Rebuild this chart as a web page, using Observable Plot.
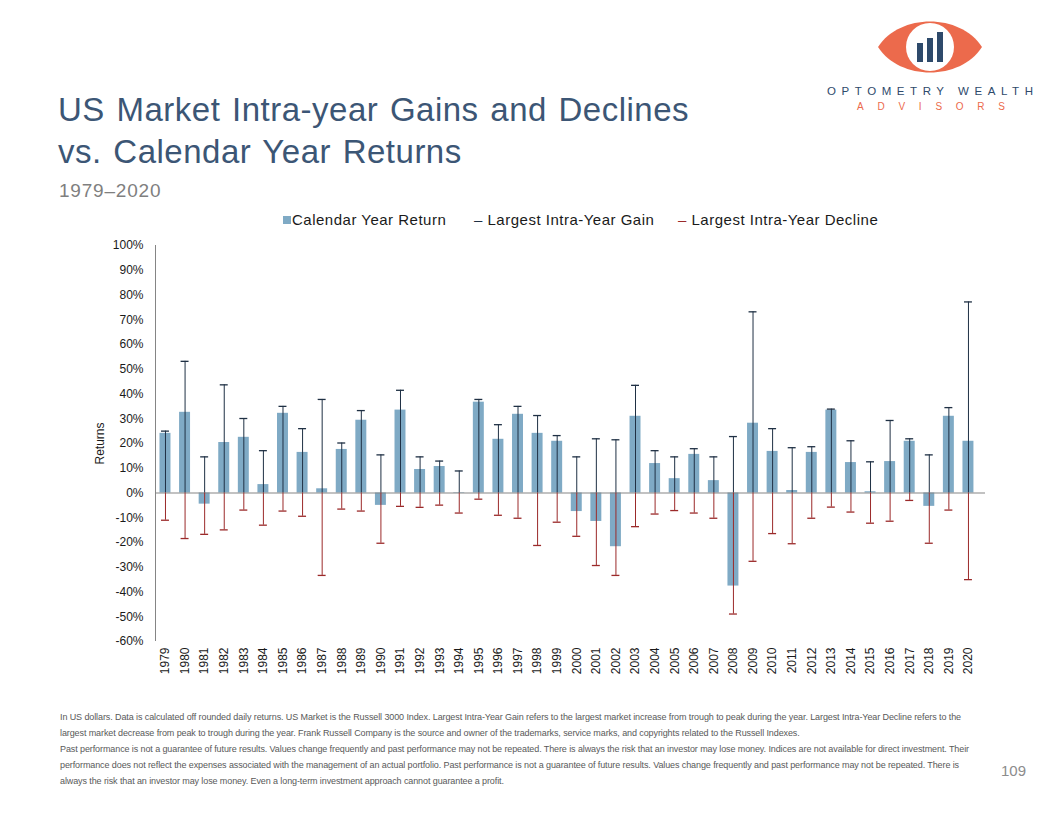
<!DOCTYPE html>
<html>
<head>
<meta charset="utf-8">
<script src="https://cdn.jsdelivr.net/npm/d3@7"></script>
<script src="https://cdn.jsdelivr.net/npm/@observablehq/plot@0.6"></script>
<style>
  html, body { margin: 0; padding: 0; background: #ffffff; }
  #page { position: relative; width: 1056px; height: 816px; overflow: hidden; font-family: "Liberation Sans", Arial, sans-serif; }
  .abs { position: absolute; white-space: nowrap; }
  #title { left: 58px; top: 89px; font-size: 33px; line-height: 42px; letter-spacing: 0.5px; word-spacing: 2px; color: #3c5675; }
  #subtitle { left: 59px; top: 180px; font-size: 19px; letter-spacing: 0.8px; color: #7f7f7f; }
  #legend { top: 211px; left: 283px; font-size: 15px; letter-spacing: 0.5px; color: #1a1a1a; }
  #legend span.item { position: absolute; top: 0; white-space: nowrap; }
  .sw { display: inline-block; width: 8px; height: 8px; margin-right: 1px; vertical-align: 1px; }
  #chart { left: 0; top: 235px; }
  #notes { left: 60px; top: 709px; font-size: 9px; line-height: 16px; color: #595959; letter-spacing: -0.1px; }
  #pageno { left: 1001px; top: 762px; font-size: 15px; color: #8c8c8c; }
</style>
</head>
<body>
<div id="page">
  <svg class="abs" style="left:0;top:0" width="1056" height="120">
    <!-- firm logo: eye with bar-chart pupil -->
    <path d="M878,47 C900,13 960,13 982,47 C960,81 900,81 878,47 Z" fill="#ec6a4c"/>
    <circle cx="930" cy="47" r="24" fill="#ffffff"/>
    <rect x="917" y="43" width="6" height="19" fill="#2e4a6b"/>
    <rect x="927" y="38" width="6" height="24" fill="#2e4a6b"/>
    <rect x="937" y="32" width="6" height="30" fill="#2e4a6b"/>
    <text x="827" y="95" font-family="Liberation Sans, Arial, sans-serif" font-size="11.5" fill="#2e4a6b" textLength="206" lengthAdjust="spacing">OPTOMETRY WEALTH</text>
    <text x="857" y="110" font-family="Liberation Sans, Arial, sans-serif" font-size="10" fill="#ec6a4c" textLength="148" lengthAdjust="spacing">ADVISORS</text>
  </svg>

  <div id="title" class="abs">US Market Intra-year Gains and Declines<br>vs. Calendar Year Returns</div>
  <div id="subtitle" class="abs">1979–2020</div>

  <div id="legend" class="abs">
    <span class="item" style="left:0"><span class="sw" style="background:#7faac5"></span>Calendar Year Return</span>
    <span class="item" style="left:191px"><span style="color:#1f3044">–</span> Largest Intra-Year Gain</span>
    <span class="item" style="left:395px"><span style="color:#9b2a2a">–</span> Largest Intra-Year Decline</span>
  </div>

  <div id="chart" class="abs"></div>

  <div id="notes" class="abs">In US dollars. Data is calculated off rounded daily returns. US Market is the Russell 3000 Index. Largest Intra-Year Gain refers to the largest market increase from trough to peak during the year. Largest Intra-Year Decline refers to the<br>largest market decrease from peak to trough during the year. Frank Russell Company is the source and owner of the trademarks, service marks, and copyrights related to the Russell Indexes.<br>Past performance is not a guarantee of future results. Values change frequently and past performance may not be repeated. There is always the risk that an investor may lose money. Indices are not available for direct investment. Their<br>performance does not reflect the expenses associated with the management of an actual portfolio. Past performance is not a guarantee of future results. Values change frequently and past performance may not be repeated. There is<br>always the risk that an investor may lose money. Even a long-term investment approach cannot guarantee a profit.</div>
  <div id="pageno" class="abs">109</div>
</div>

<script>
// Russell 3000: calendar-year return, largest intra-year gain and decline (%)
const years = ["1979","1980","1981","1982","1983","1984","1985","1986","1987","1988",
               "1989","1990","1991","1992","1993","1994","1995","1996","1997","1998",
               "1999","2000","2001","2002","2003","2004","2005","2006","2007","2008",
               "2009","2010","2011","2012","2013","2014","2015","2016","2017","2018",
               "2019","2020"];
const calendarReturn = [24.1, 32.6, -4.5, 20.4, 22.5, 3.4, 32.2, 16.4, 1.7, 17.6,
                        29.4, -5.0, 33.5, 9.5, 10.7, 0.2, 36.7, 21.7, 31.8, 24.1,
                        20.9, -7.5, -11.5, -21.7, 31.0, 11.9, 5.8, 15.6, 5.0, -37.6,
                        28.2, 16.8, 1.0, 16.4, 33.5, 12.3, 0.5, 12.7, 20.9, -5.4,
                        31.0, 20.9];
const intraYearGain = [25.0, 53.2, 14.6, 43.7, 30.1, 17.1, 35.0, 26.0, 37.8, 20.2,
                       33.3, 15.4, 41.5, 14.6, 12.9, 8.9, 37.8, 27.6, 35.0, 31.3,
                       23.2, 14.6, 21.9, 21.5, 43.5, 17.1, 14.6, 17.9, 14.6, 22.8,
                       73.2, 26.0, 18.3, 18.7, 33.9, 21.1, 12.6, 29.3, 21.9, 15.4,
                       34.5, 77.2];
const intraYearDecline = [-11.0, -18.4, -16.7, -14.9, -6.9, -13.0, -7.3, -9.4, -33.3, -6.5,
                          -7.3, -20.3, -5.4, -5.8, -4.9, -8.1, -2.5, -9.0, -10.2, -21.2,
                          -11.8, -17.5, -29.3, -33.3, -13.6, -8.5, -7.1, -8.1, -10.2, -48.9,
                          -27.6, -16.4, -20.5, -10.2, -5.7, -7.7, -12.2, -11.4, -3.0, -20.3,
                          -6.9, -35.0];
const yTicks = [-60, -50, -40, -30, -20, -10, 0, 10, 20, 30, 40, 50, 60, 70, 80, 90, 100];

const rows = years.map((year, i) => ({
  year,
  ret: calendarReturn[i],
  gain: intraYearGain[i],
  decline: intraYearDecline[i]
}));

const barColor = "#7faac5";
const gainColor = "#1f3044";
const declineColor = "#9b2a2a";
const axisColor = "#858585";

const chart = Plot.plot({
  width: 1056,
  height: 450,
  marginLeft: 155,
  marginRight: 71,
  marginTop: 10,
  marginBottom: 44,
  style: { fontFamily: "Liberation Sans, Arial, sans-serif", fontSize: "12px", color: "#1a1a1a", background: "transparent" },
  x: { domain: years, paddingInner: 0.44, paddingOuter: 0.41, align: 0.28, round: false, label: null },
  y: { domain: [-60, 100], label: null },
  marks: [
    Plot.axisY({ ticks: yTicks, tickFormat: d => d + "%", tickSize: 0, tickPadding: 12, fontSize: 12,
                 label: "Returns", labelAnchor: "center", labelOffset: 60, labelArrow: "none" }),
    Plot.axisX({ tickRotate: -90, tickSize: 0, tickPadding: 6, fontSize: 12, label: null }),
    Plot.barY(rows, { x: "year", y: "ret", fill: barColor }),
    Plot.ruleY([0], { stroke: axisColor }),
    // largest intra-year gain: whisker up from zero with cap
    Plot.ruleX(rows, { x: "year", y1: 0, y2: "gain", stroke: gainColor, strokeWidth: 1 }),
    Plot.tickY(rows, { x: "year", y: "gain", stroke: gainColor, strokeWidth: 1.3, insetLeft: 1.5, insetRight: 1.5 }),
    // largest intra-year decline: whisker down from zero with cap
    Plot.ruleX(rows, { x: "year", y1: 0, y2: "decline", stroke: declineColor, strokeWidth: 1 }),
    Plot.tickY(rows, { x: "year", y: "decline", stroke: declineColor, strokeWidth: 1.3, insetLeft: 1.5, insetRight: 1.5 })
  ]
});

// vertical value-axis line along the left edge of the x range, spanning the y domain
const xScale = chart.scale("x");
const yScale = chart.scale("y");
d3.select(chart).append("line")
  .attr("x1", xScale.range[0]).attr("x2", xScale.range[0])
  .attr("y1", yScale.apply(yScale.domain[0])).attr("y2", yScale.apply(yScale.domain[1]))
  .attr("stroke", axisColor).attr("stroke-width", 1).attr("shape-rendering", "crispEdges");

document.getElementById("chart").appendChild(chart);
</script>
</body>
</html>
